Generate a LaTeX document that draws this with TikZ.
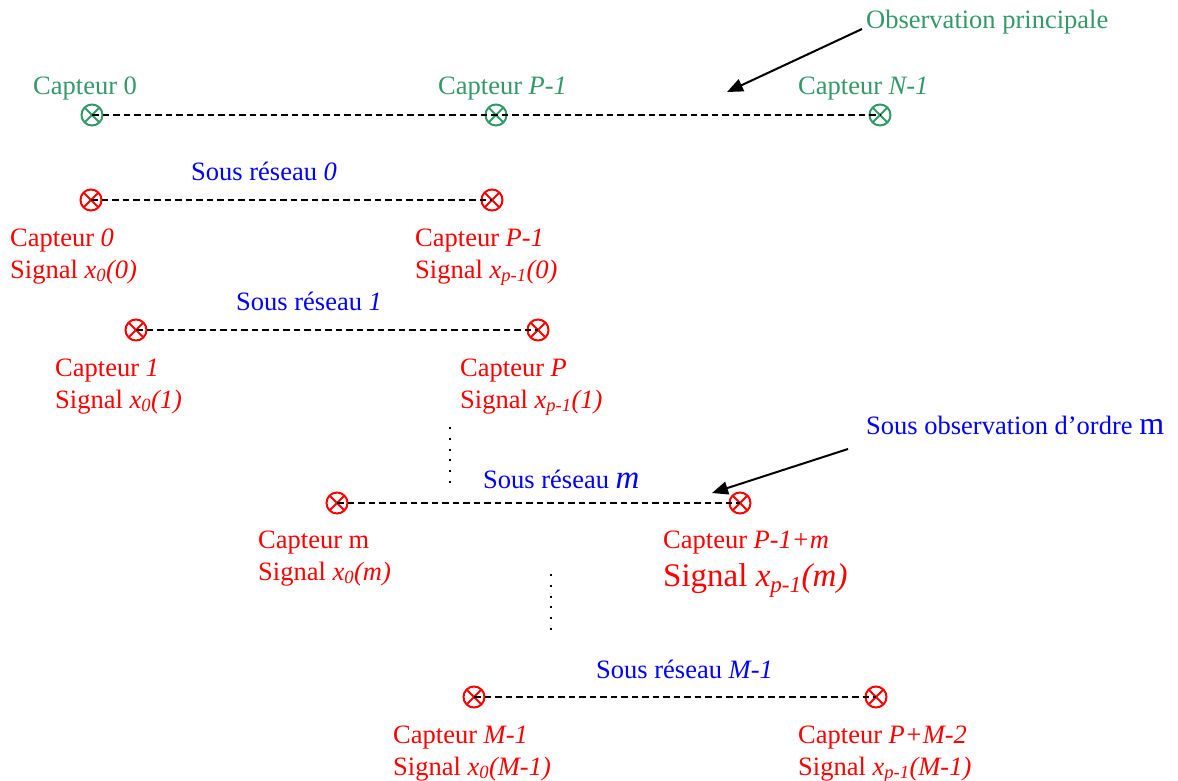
\documentclass[tikz,border=0pt]{standalone}
\usepackage{fontspec}
\setmainfont{Liberation Serif}
\usepackage{tikz}
\usetikzlibrary{positioning, arrows.meta}
\definecolor{capgreen}{RGB}{51, 153, 102}
\definecolor{capred}{RGB}{255, 0, 0}
\definecolor{capblue}{RGB}{0, 0, 255}

\begin{document}
\begin{tikzpicture}[x=1pt, y=-1pt, font=\fontsize{26.5}{30}\selectfont, >=Triangle,
    capteur/.style={circle, draw=#1, line width=2pt, minimum size=21pt, inner sep=0pt,
      path picture={\draw[#1, line width=2pt]
        (path picture bounding box.north west) -- (path picture bounding box.south east)
        (path picture bounding box.north east) -- (path picture bounding box.south west);}},
    lbl/.style={anchor=base west, inner sep=0pt, text=#1},
    lien/.style={line width=1.8pt, dash pattern=on 6.5pt off 4pt},
    pointille/.style={line width=2pt, dash pattern=on 2pt off 8.8pt},
    fleche/.style={->, line width=2pt, -{Triangle[length=16pt, width=13pt]}}]
  \useasboundingbox (0,0) rectangle (1178,781);

  % observation principale
  \node[capteur=capgreen] (a0) at (92, 115) {};
  \node[capteur=capgreen] (a1) at (496, 115) {};
  \node[capteur=capgreen] (a2) at (880, 115) {};
  \draw[lien] (a0.center) -- (a1.center) -- (a2.center);
  \node[lbl=capgreen] (ta0) at (33, 95) {Capteur 0};
  \node[lbl=capgreen] (ta1) at (438, 95) {Capteur \textit{P-1}};
  \node[lbl=capgreen] (ta2) at (798, 95) {Capteur \textit{N-1}};
  \node[lbl=capgreen] (obs) at (866, 29) {Observation principale};
  \coordinate (obsfin) at (727, 92);
  \draw[fleche] ([xshift=-4pt]obs.base west) -- (obsfin);

  % sous reseau 0
  \node[capteur=capred] (b0) at (91, 200) {};
  \node[capteur=capred] (b1) at (492, 200) {};
  \draw[lien] (b0.center) -- (b1.center);
  \node[lbl=capblue] (sb) at (191, 180) {Sous réseau \textit{0}};
  \node[lbl=capred] (tb0) at (10, 246) {Capteur \textit{0}};
  \node[lbl=capred] (sgb0) at (10, 278) {Signal \textit{x\textsubscript{0}(0)}};
  \node[lbl=capred] (tb1) at (415, 246) {Capteur \textit{P-1}};
  \node[lbl=capred] (sgb1) at (415, 278) {Signal \textit{x\textsubscript{p-1}(0)}};

  % sous reseau 1
  \node[capteur=capred] (c0) at (136, 330) {};
  \node[capteur=capred] (c1) at (538, 330) {};
  \draw[lien] (c0.center) -- (c1.center);
  \node[lbl=capblue] (sc) at (236, 310) {Sous réseau \textit{1}};
  \node[lbl=capred] (tc0) at (55, 376) {Capteur \textit{1}};
  \node[lbl=capred] (sgc0) at (55, 408) {Signal \textit{x\textsubscript{0}(1)}};
  \node[lbl=capred] (tc1) at (460, 376) {Capteur \textit{P}};
  \node[lbl=capred] (sgc1) at (460, 408) {Signal \textit{x\textsubscript{p-1}(1)}};

  \coordinate (p1a) at (450, 427);
  \coordinate (p1b) at (450, 484);
  \draw[pointille] (p1a) -- (p1b);

  % sous reseau m
  \node[capteur=capred] (d0) at (337, 503) {};
  \node[capteur=capred] (d1) at (740, 503) {};
  \draw[lien] (d0.center) -- (d1.center);
  \node[lbl=capblue] (sd) at (483, 488) {Sous réseau {\fontsize{33}{36}\selectfont\textit{m}}};
  \node[lbl=capred] (td0) at (258, 548) {Capteur m};
  \node[lbl=capred] (sgd0) at (258, 580) {Signal \textit{x\textsubscript{0}(m)}};
  \node[lbl=capred] (td1) at (663, 548) {Capteur \textit{P-1+m}};
  \node[lbl=capred, font=\fontsize{33}{36}\selectfont] (sgd1) at (663, 586) {Signal \textit{x\textsubscript{p-1}(m)}};
  \node[lbl=capblue] (sousobs) at (866, 434) {Sous observation d’ordre {\fontsize{32}{34}\selectfont m}};
  \coordinate (sousfin) at (712, 493);
  \draw[fleche] ([shift={(-18,15)}]sousobs.base west) -- (sousfin);

  \coordinate (p2a) at (551, 574);
  \coordinate (p2b) at (551, 631);
  \draw[pointille] (p2a) -- (p2b);

  % sous reseau M-1
  \node[capteur=capred] (e0) at (474, 697) {};
  \node[capteur=capred] (e1) at (876, 697) {};
  \draw[lien] (e0.center) -- (e1.center);
  \node[lbl=capblue] (se) at (596, 678) {Sous réseau \textit{M-1}};
  \node[lbl=capred] (te0) at (393, 743) {Capteur \textit{M-1}};
  \node[lbl=capred] (sge0) at (393, 775) {Signal \textit{x\textsubscript{0}(M-1)}};
  \node[lbl=capred] (te1) at (798, 743) {Capteur \textit{P+M-2}};
  \node[lbl=capred] (sge1) at (798, 775) {Signal \textit{x\textsubscript{p-1}(M-1)}};
\end{tikzpicture}
\end{document}
